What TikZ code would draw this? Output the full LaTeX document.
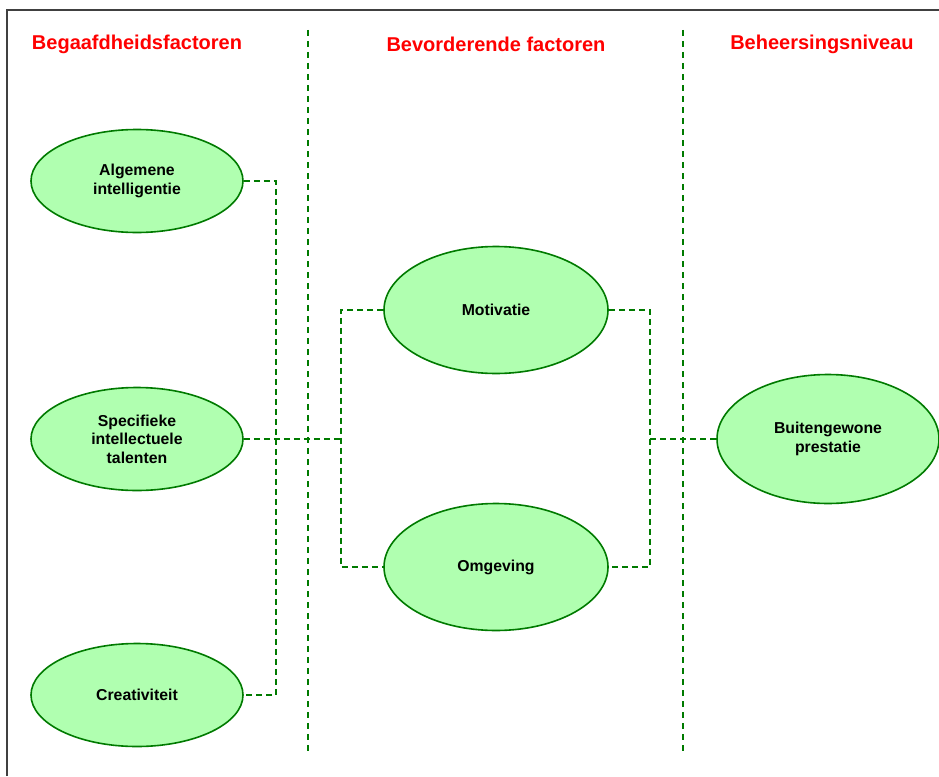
\documentclass[tikz,border=0pt]{standalone}
\usepackage{fontspec}
\setmainfont{Liberation Sans}
\usetikzlibrary{shapes.geometric}
\definecolor{lgreen}{HTML}{B0FFB0}
\definecolor{dgreen}{HTML}{007A00}
\definecolor{lred}{HTML}{FF0000}
\begin{document}
\begin{tikzpicture}[x=1pt,y=-1pt,
  oval/.style={ellipse,draw=dgreen,line width=1.6pt,fill=lgreen,inner sep=0pt,
     minimum width=212pt,minimum height=103pt,align=center,
     font=\fontsize{15.8}{18.5}\selectfont\bfseries},
  bigoval/.style={oval,minimum width=224pt,minimum height=127pt},
  title/.style={text=lred,font=\fontsize{20}{23}\selectfont\bfseries},
  conn/.style={draw=dgreen,line width=2pt,dash pattern=on 6pt off 4pt},
  sep/.style={draw=dgreen,line width=1.7pt,dash pattern=on 6pt off 5pt}]
\useasboundingbox (0,0) rectangle (939,776);
\draw[line width=1.6pt,draw=black!75] (7,776) -- (7,10) -- (939,10);
% titles
\node[title] (t1) at (137,44) {Begaafdheidsfactoren};
\node[title] (t2) at (496,44) {Bevorderende factoren};
\node[title] (t3) at (822,44) {Beheersingsniveau};
% separators
\coordinate (s1t) at (308,30); \coordinate (s1b) at (308,752);
\coordinate (s2t) at (683,30); \coordinate (s2b) at (683,752);
\draw[sep] (s1t) -- (s1b);
\draw[sep] (s2t) -- (s2b);
% junction columns
\coordinate (jL) at (276,0);
\coordinate (jM) at (341,0);
\coordinate (jR) at (650,0);
% nodes
\node[oval] (alg) at (137,181) {Algemene\\intelligentie};
\node[oval] (spe) at (137,439) {Specifieke\\intellectuele\\talenten};
\node[oval] (cre) at (137,695) {Creativiteit};
\node[bigoval] (mot) at (496,310) {Motivatie};
\node[bigoval] (omg) at (496,567) {Omgeving};
\node[bigoval,minimum width=222pt,minimum height=129pt] (bui) at (828,439) {Buitengewone\\prestatie};
% connectors
\draw[conn,line width=2.3pt] (alg.east) -| (jL |- cre.east) -- (cre.east);
\draw[conn,line width=2.6pt] (spe.east) -- (spe.east -| jM);
\draw[conn,line width=1.7pt] (mot.west) -| (jM |- omg.west) -- (omg.west);
\draw[conn,line width=1.7pt] (mot.east) -| (jR |- omg.east) -- (omg.east);
\draw[conn,line width=2.6pt] (jR |- bui.west) -- (bui.west);
\end{tikzpicture}
\end{document}
